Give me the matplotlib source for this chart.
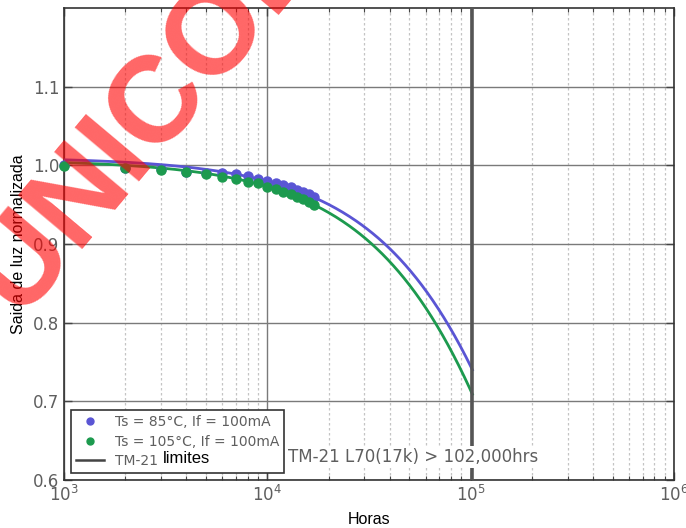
import numpy as np
import matplotlib
matplotlib.use("Agg")
import matplotlib.pyplot as plt
from matplotlib.lines import Line2D
from matplotlib.ticker import LogLocator, FixedLocator
from matplotlib.transforms import IdentityTransform

# ---- data ----
hours = [1000, 2000, 3000, 4000, 5000, 6000, 7000, 8000, 9000, 10000,
         11000, 12000, 13000, 14000, 15000, 16000, 17000]
lum_85 = [1.000, 0.997, 0.995, 0.992, 0.990, 0.990, 0.989, 0.986, 0.983,
          0.980, 0.978, 0.975, 0.972, 0.969, 0.966, 0.963, 0.960]
lum_105 = [0.999, 0.996, 0.994, 0.991, 0.989, 0.985, 0.982, 0.979, 0.977,
           0.973, 0.970, 0.966, 0.963, 0.960, 0.957, 0.954, 0.949]
# TM-21 exponential fit parameters  (B, alpha)
fit_85 = (1.0101, 3.050e-6)
fit_105 = (1.0069, 3.439e-6)
tm21_limit = 102000
fit_start = 1000
label_85 = "Ts = 85°C, If = 100mA"
label_105 = "Ts = 105°C, If = 100mA"
label_lim = "TM-21"
annot = "TM-21 L70(17k) > 102,000hrs"
watermark = "UNICOBA"

blue = "#5a55d4"
green = "#1c9a4e"
gray_txt = "#5e5e5e"

fig = plt.figure(figsize=(6.86, 5.28), dpi=100)
ax = fig.add_axes([64/686, 48/528, 610/686, 472/528])

ax.set_xscale("log")
ax.set_xlim(1e3, 1e6)
ax.set_ylim(0.6, 1.2)

t = np.logspace(np.log10(fit_start), np.log10(tm21_limit), 300)
ax.plot(t, fit_85[0]*np.exp(-fit_85[1]*t), color=blue, lw=2.0, zorder=3)
ax.plot(t, fit_105[0]*np.exp(-fit_105[1]*t), color=green, lw=2.0, zorder=3)
ax.plot(hours, lum_85, 'o', color=blue, ms=6.5, mec=blue, zorder=4, clip_on=False)
ax.plot(hours, lum_105, 'o', color=green, ms=6.5, mec=green, zorder=5, clip_on=False)
ax.axvline(tm21_limit, color="#555555", lw=2.6, zorder=6)

ax.yaxis.set_major_locator(FixedLocator([0.6, 0.7, 0.8, 0.9, 1.0, 1.1]))
ax.xaxis.set_major_locator(LogLocator(base=10, numticks=10))
ax.xaxis.set_minor_locator(LogLocator(base=10, subs=np.arange(2, 10), numticks=20))
ax.grid(True, which="major", color="#7a7a7a", lw=1.0, ls="-")
ax.grid(True, which="minor", axis="x", color="#c4c4c4", lw=0.9, ls=(0, (2, 2)))
ax.set_axisbelow(True)

ax.tick_params(which="both", direction="in", top=True, right=True,
               labelsize=12, labelcolor=gray_txt, colors="#444444")
ax.tick_params(which="major", length=6, width=1)
ax.tick_params(which="minor", length=3, width=0.8)
for sp in ax.spines.values():
    sp.set_color("#333333")
    sp.set_linewidth(1.2)

ax.set_xlabel("Horas", family="Liberation Sans", fontsize=11.5, color="black", labelpad=5)
ax.set_ylabel("Saida de luz normalizada", family="Liberation Sans", fontsize=11.5,
              color="black", labelpad=5)

ax.text(0.368, 0.048, annot, transform=ax.transAxes, fontsize=12, color=gray_txt,
        ha="left", va="center", zorder=7,
        bbox=dict(facecolor="white", edgecolor="none", pad=1.5))

handles = [Line2D([], [], ls="none", marker="o", color=blue, ms=5),
           Line2D([], [], ls="none", marker="o", color=green, ms=5),
           Line2D([], [], color="#444444", lw=1.8)]
leg = ax.legend(handles, [label_85, label_105, label_lim], loc="lower left",
                bbox_to_anchor=(0.0115, 0.0148), borderaxespad=0, fontsize=10,
                frameon=True, fancybox=False, framealpha=1, handlelength=2.0,
                labelspacing=0.4, borderpad=0.35, handletextpad=0.8)
leg.get_frame().set_edgecolor("#333333")
leg.get_frame().set_linewidth(1.2)
for txt in leg.get_texts():
    txt.set_color(gray_txt)
leg.set_zorder(8)

fig.canvas.draw()
bb = leg.get_texts()[2].get_window_extent()
fig.text(bb.x1 + 5, bb.y0 + 2, "limites", transform=IdentityTransform(),
         family="Liberation Sans", fontsize=12, color="black", ha="left", va="bottom",
         zorder=20)

# watermark
fig.text(19/686, 1 - 316/528, watermark, rotation=50, rotation_mode="anchor",
         color="red", alpha=0.6, fontsize=88, fontweight="bold",
         family="Liberation Sans", ha="left", va="baseline", zorder=50)

fig.savefig("out.png", dpi=100)
